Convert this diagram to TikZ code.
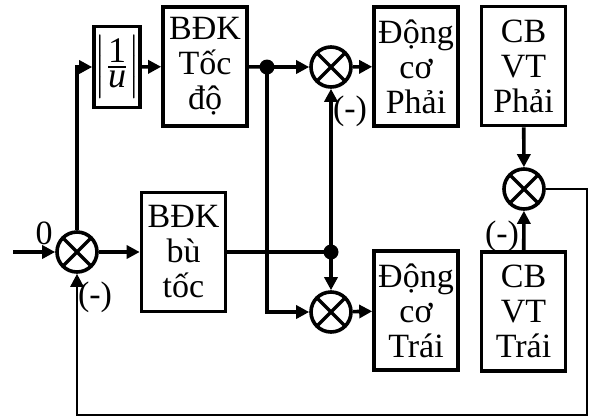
\documentclass[tikz,border=0pt]{standalone}
\usepackage{amsmath}
\usepackage{fontspec}
\setmainfont{Liberation Serif}
\usetikzlibrary{arrows.meta}

\begin{document}
\begin{tikzpicture}[x=.5pt,y=-.5pt,line width=1.8pt,font=\fontsize{17}{17.5}\selectfont,
  >={Triangle[length=6.5pt,width=6.5pt]},
  blk/.style={draw,align=center,inner sep=0pt,minimum width=42pt,minimum height=59.5pt},
  sum/.style={draw,circle,inner sep=0pt,minimum size=20pt,path picture={
    \draw[line width=1.6pt] (path picture bounding box.north west) -- (path picture bounding box.south east)
      (path picture bounding box.north east) -- (path picture bounding box.south west);}},
  dot/.style={circle,fill,inner sep=0pt,minimum size=7.5pt}]
\useasboundingbox (0,0) rectangle (590,419);
% blocks
\node[blk,minimum width=23pt,minimum height=40.5pt,font=\fontsize{18}{17}\selectfont] (inv) at (117,67)
  {$\Bigl|\tfrac{\hbox{1}}{\hbox{\itshape u}}\Bigr|$};
\foreach \n/\x/\y/\t in {bdkt/205/66.5/{BĐK\\Tốc\\độ},bdkb/183.5/252/{BĐK\\bù\\tốc},
    dcp/416/66.5/{Động\\cơ\\Phải},dct/416/310.5/{Động\\cơ\\Trái},
    cbp/523.5/66/{CB\\VT\\Phải},cbt/523.5/311.5/{CB\\VT\\Trái}}
  \node[blk] (\n) at (\x,\y) {\t};
% summing points and branch points
\foreach \n/\x/\y in {s0/77/252,s1/331/67,s2/331/312,s3/524/189} \node[sum] (\n) at (\x,\y) {};
\node[dot] (j1) at (267,67) {};
\node[dot] (j2) at (331,252) {};
\coordinate (in) at (13,252);
\coordinate (fb) at (587,415);
% signs
\node (l0) at (44,233) {0};
\foreach \n/\x/\y in {m0/95/297,m1/350/111,m3/502/236} \node (\n) at (\x,\y) {(-)};
% connections
\draw[->] (in) -- (s0);
\draw[->] (s0) |- (inv);
\draw[->] (inv) -- (bdkt);
\draw[->] (bdkt) -- (j1.center) -- (s1);
\draw[->] (j1.center) |- (s2);
\draw[->] (s0) -- (bdkb);
\draw (bdkb) -- (j2.center);
\draw[->] (j2.center) -- (s1);
\draw[->] (j2.center) -- (s2);
\draw[->] (s1) -- (dcp);
\draw[->] (s2) -- (dct);
\draw[->] (cbp) -- (s3);
\draw[->] (cbt) -- (s3);
\draw[->,line width=1.3pt] (s3) -| (fb) -| (s0);
\end{tikzpicture}
\end{document}
